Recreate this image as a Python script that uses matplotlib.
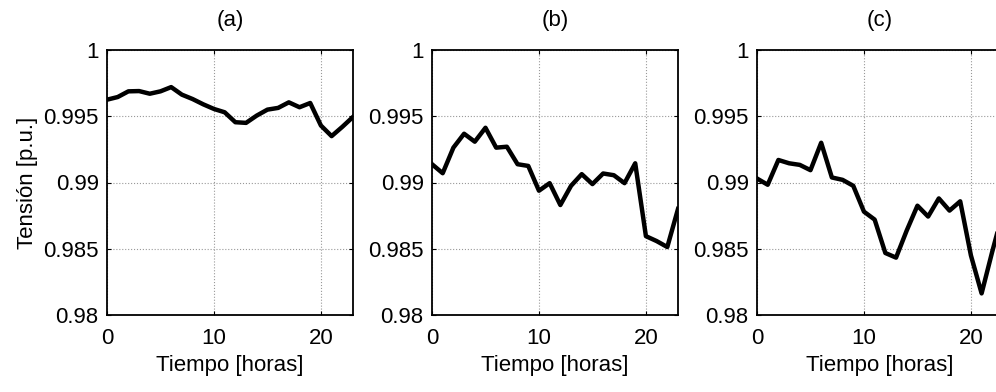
import numpy as np
import matplotlib
matplotlib.use('Agg')
import matplotlib.pyplot as plt

plt.rcParams['font.family'] = ['Liberation Sans', 'DejaVu Sans']

horas = np.arange(24)

# tension por hora
tension_a = [0.99625, 0.99645, 0.99688, 0.9969, 0.9967, 0.99688, 0.9972, 0.99663,
             0.9963, 0.9959, 0.99555, 0.9953, 0.99455, 0.9945, 0.99505, 0.9955,
             0.99563, 0.99605, 0.99568, 0.996, 0.9943, 0.9935, 0.9942, 0.99495]
tension_b = [0.99138, 0.9907, 0.99263, 0.99368, 0.99308, 0.99413, 0.99263, 0.9927,
             0.99138, 0.99125, 0.98938, 0.98995, 0.9883, 0.98975, 0.99063, 0.98988,
             0.99068, 0.99055, 0.98995, 0.99145, 0.98595, 0.98558, 0.98513, 0.988]
tension_c = [0.9903, 0.98983, 0.9917, 0.99145, 0.99133, 0.99093, 0.993, 0.99038,
             0.9902, 0.98975, 0.9878, 0.9872, 0.98468, 0.98433, 0.98638, 0.98825,
             0.98743, 0.9888, 0.98788, 0.98858, 0.9845, 0.98163, 0.9848, 0.9878]

titulos = ['(a)', '(b)', '(c)']
series = [tension_a, tension_b, tension_c]
yticks = [0.98, 0.985, 0.99, 0.995, 1]
yticklabels = ['0.98', '0.985', '0.99', '0.995', '1']

fig = plt.figure(figsize=(9.96, 3.92), dpi=100)
W, H = 996.0, 392.0
lefts = [107, 432, 757]

for i in range(3):
    ax = fig.add_axes([lefts[i] / W, (H - 315) / H, 246 / W, 265 / H])
    ax.plot(horas, series[i], color='black', lw=3.2, solid_joinstyle='round')
    ax.set_xlim(0, 23)
    ax.set_ylim(0.98, 1)
    ax.set_xticks([0, 10, 20])
    ax.set_yticks(yticks)
    ax.set_yticklabels(yticklabels)
    ax.grid(True, linestyle=':', color='#999999', lw=0.8)
    ax.tick_params(direction='in', top=True, right=True, labelsize=16, length=3)
    ax.tick_params(axis='x', pad=9)
    ax.tick_params(axis='y', pad=6)
    for s in ax.spines.values():
        s.set_linewidth(1.3)
    ax.set_title(titulos[i], fontsize=16, pad=17)
    ax.set_xlabel('Tiempo [horas]', fontsize=16, labelpad=5)
    if i == 0:
        ax.set_ylabel('Tensión [p.u.]', fontsize=16, labelpad=4)

fig.savefig('out.png', dpi=100)
